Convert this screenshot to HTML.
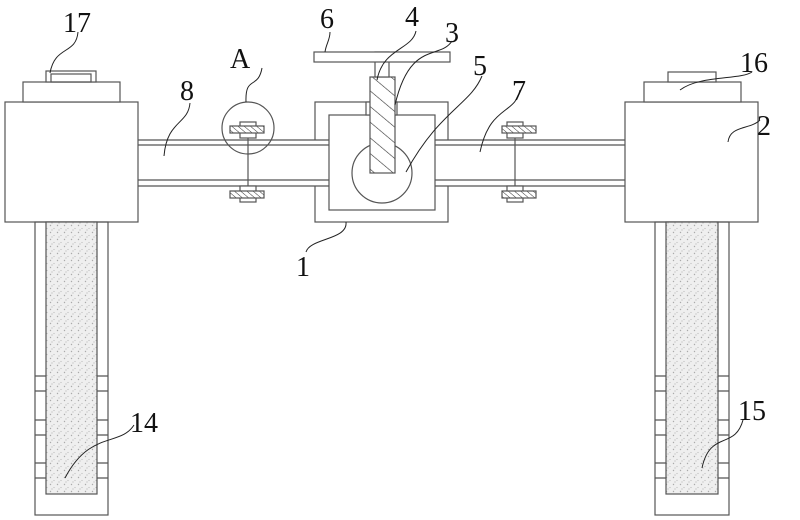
<!DOCTYPE html>
<html><head><meta charset="utf-8"><style>
html,body{margin:0;padding:0;background:#fff}
svg{display:block}
text{font-family:"Liberation Serif",serif;font-size:28px;fill:#111}
</style></head><body>
<svg width="800" height="520" viewBox="0 0 800 520" xmlns="http://www.w3.org/2000/svg">
<defs>
<pattern id="dots" width="7" height="7" patternUnits="userSpaceOnUse">
<rect width="7" height="7" fill="#efefef"/>
<circle cx="1.5" cy="1.5" r="0.7" fill="#aaa"/>
<circle cx="5" cy="4.5" r="0.6" fill="#bbb"/>
<circle cx="3" cy="6" r="0.5" fill="#999"/>
</pattern>
<pattern id="hatch" width="12" height="12" patternUnits="userSpaceOnUse" patternTransform="rotate(-50)">
<rect width="12" height="12" fill="#fff"/>
<line x1="0" y1="0" x2="0" y2="12" stroke="#333" stroke-width="1.2"/>
</pattern>
<pattern id="hatch2" width="4" height="4" patternUnits="userSpaceOnUse" patternTransform="rotate(-50)">
<rect width="4" height="4" fill="#fff"/>
<line x1="0" y1="0" x2="0" y2="4" stroke="#333" stroke-width="1"/>
</pattern>
</defs>
<g fill="none" stroke="#555" stroke-width="1.2">
<!-- central box outer -->
<rect x="315" y="102" width="133" height="120" fill="#fff"/>
<!-- beam -->
<rect x="138" y="140" width="487" height="46" fill="#fff" stroke="none"/>
<line x1="138" y1="140" x2="625" y2="140"/>
<line x1="138" y1="145" x2="625" y2="145"/>
<line x1="138" y1="180" x2="625" y2="180"/>
<line x1="138" y1="186" x2="625" y2="186"/>
<!-- left block -->
<rect x="5" y="102" width="133" height="120" fill="#fff"/>
<rect x="23" y="82" width="97" height="20" fill="#fff"/>
<rect x="46" y="71" width="50" height="11" fill="#fff"/>
<rect x="51" y="74" width="40" height="8"/>
<!-- right block -->
<rect x="625" y="102" width="133" height="120" fill="#fff"/>
<rect x="644" y="82" width="97" height="20" fill="#fff"/>
<rect x="668" y="72" width="48" height="10" fill="#fff"/>
<!-- left leg -->
<rect x="35" y="222" width="73" height="293"/>
<rect x="46" y="222" width="51" height="272" fill="url(#dots)"/>
<path d="M35 376H46M35 391H46M35 420H46M35 435H46M35 463H46M35 478H46M97 376H108M97 391H108M97 420H108M97 435H108M97 463H108M97 478H108"/>
<!-- right leg -->
<rect x="655" y="222" width="74" height="293"/>
<rect x="666" y="222" width="52" height="272" fill="url(#dots)"/>
<path d="M655 376H666M655 391H666M655 420H666M655 435H666M655 463H666M655 478H666M718 376H729M718 391H729M718 420H729M718 435H729M718 463H729M718 478H729"/>
<!-- central inner -->
<rect x="329" y="115" width="106" height="95" fill="#fff"/>
<circle cx="382" cy="173" r="30" fill="#fff"/>
<rect x="366" y="102" width="31" height="13" fill="#fff"/>
<rect x="370" y="77" width="25" height="96" fill="url(#hatch)"/>
<rect x="375" y="52" width="14" height="25" fill="#fff"/>
<rect x="314" y="52" width="136" height="10" fill="#fff"/>
<!-- circle A -->
<circle cx="248" cy="128" r="26"/>
<!-- bolts -->
<line x1="248" y1="128" x2="248" y2="195"/>
<rect x="240" y="122" width="16" height="16" fill="#fff"/>
<rect x="230" y="126" width="34" height="7" fill="url(#hatch2)"/>
<rect x="240" y="186" width="16" height="16" fill="#fff"/>
<rect x="230" y="191" width="34" height="7" fill="url(#hatch2)"/>
<line x1="515" y1="128" x2="515" y2="195"/>
<rect x="507" y="122" width="16" height="16" fill="#fff"/>
<rect x="502" y="126" width="34" height="7" fill="url(#hatch2)"/>
<rect x="507" y="186" width="16" height="16" fill="#fff"/>
<rect x="502" y="191" width="34" height="7" fill="url(#hatch2)"/>
</g>
<!-- leader lines -->
<g fill="none" stroke="#222" stroke-width="1">
<path d="M78 32 C76 55 55 45 50 73"/>
<path d="M262 68 C258 90 245 75 246 102"/>
<path d="M190 103 C188 125 167 120 164 156"/>
<path d="M330 32 C330 40 326 44 325 52"/>
<path d="M416 31 C412 50 383 48 377 80"/>
<path d="M452 41 C440 60 410 40 395 105"/>
<path d="M482 76 C470 105 440 110 406 172"/>
<path d="M520 90 C515 115 490 105 480 152"/>
<path d="M752 72 C740 80 700 75 680 90"/>
<path d="M760 120 C750 130 730 125 728 142"/>
<path d="M306 252 C310 238 348 240 346 222"/>
<path d="M134 425 C120 447 90 430 65 478"/>
<path d="M743 420 C735 450 710 430 702 468"/>
</g>
<!-- labels -->
<text x="63" y="32">17</text>
<text x="230" y="68">A</text>
<text x="180" y="100">8</text>
<text x="320" y="28">6</text>
<text x="405" y="26">4</text>
<text x="445" y="42">3</text>
<text x="473" y="75">5</text>
<text x="512" y="100">7</text>
<text x="740" y="72">16</text>
<text x="757" y="135">2</text>
<text x="296" y="276">1</text>
<text x="130" y="432">14</text>
<text x="738" y="420">15</text>
</svg>
</body></html>
